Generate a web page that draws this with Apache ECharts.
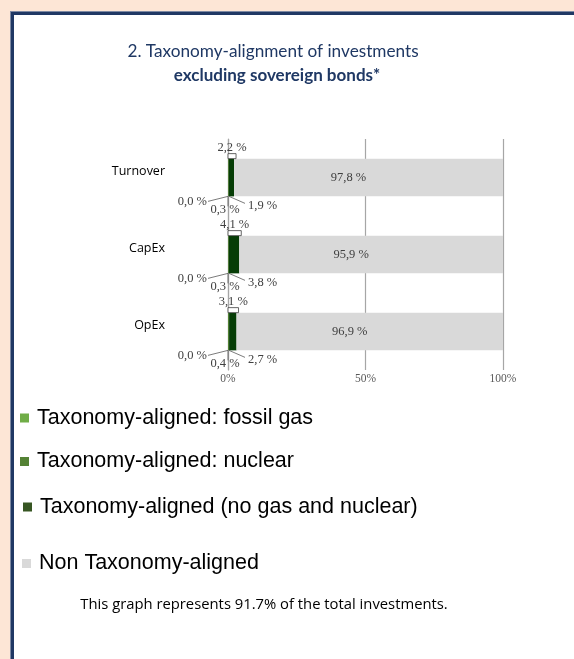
<!DOCTYPE html>
<html>
<head>
<meta charset="utf-8">
<script src="https://cdn.jsdelivr.net/npm/echarts@6/dist/echarts.min.js"></script>
<style>
  html, body { margin: 0; padding: 0; width: 574px; height: 659px; background: #fde6d6; overflow: hidden; }
  #frame { position: absolute; left: 11px; top: 12px; width: 600px; height: 700px; background: #ffffff;
           border-left: 3px solid #203864; border-top: 3px solid #203864; box-shadow: -1px -1px 0 #7f8aa3; }
  #chart { position: absolute; left: 0; top: 0; width: 574px; height: 659px; }
</style>
</head>
<body>
<div id="frame"></div>
<div id="chart"></div>
<script>
// ---- data ----
const categories = ['Turnover', 'CapEx', 'OpEx'];
const fossilGas = [0.0, 0.0, 0.0];
const nuclear = [0.3, 0.3, 0.4];
const alignedNoGasNuclear = [1.9, 3.8, 2.7];
const nonAligned = [97.8, 95.9, 96.9];
const alignedTotal = [2.2, 4.1, 3.1];
const xTicks = [0, 50, 100];
const seriesNames = ['Taxonomy-aligned: fossil gas', 'Taxonomy-aligned: nuclear',
                     'Taxonomy-aligned (no gas and nuclear)', 'Non Taxonomy-aligned'];
const titleLine1 = '2. Taxonomy-alignment of investments';
const titleLine2 = 'excluding sovereign bonds*';
const footnote = 'This graph represents 91.7% of the total investments.';

const fmt = v => v.toFixed(1).replace('.', ',') + ' %';
const serif = 'Liberation Serif';
const labelColor = '#404040';
const barFrac = 0.49;

const chart = echarts.init(document.getElementById('chart'), null, { renderer: 'canvas' });

const legendColors = ['#70ad47', '#548235', '#375623', '#d9d9d9'];
const legendLeft = [20, 20, 23, 22];
const legendCenterY = [418, 461.5, 507, 563.5];

const legends = seriesNames.map((n, k) => ({
  data: [{ name: n, itemStyle: { color: legendColors[k] } }],
  left: legendLeft[k], top: legendCenterY[k] - 12, padding: 0,
  itemWidth: 9, itemHeight: 9, icon: 'rect', selectedMode: false,
  textStyle: { fontFamily: 'Liberation Sans', fontSize: 21.5, color: '#000', lineHeight: 24, padding: [0, 0, 0, 3] }
}));

const option = {
  animation: false,
  backgroundColor: 'transparent',
  title: [
    { text: titleLine1, left: 268, top: 38, textAlign: 'center',
      textStyle: { fontFamily: 'Lato', fontWeight: 'normal', fontSize: 17.2, color: '#1f3864' } },
    { text: titleLine2, left: 272, top: 62, textAlign: 'center',
      textStyle: { fontFamily: 'Lato', fontWeight: 'bold', fontSize: 17, color: '#1f3864' } },
    { text: footnote, left: 259, top: 592, textAlign: 'center',
      textStyle: { fontFamily: 'Open Sans', fontWeight: 'normal', fontSize: 14.8, color: '#000' } }
  ],
  legend: legends,
  grid: { left: 228, right: 71, top: 139, bottom: 289, containLabel: false },
  xAxis: {
    type: 'value', min: 0, max: 100, interval: 50,
    axisLine: { show: false }, axisTick: { show: false },
    splitLine: { show: true, lineStyle: { color: '#a6a6a6', width: 1.2 } },
    axisLabel: { formatter: v => xTicks.includes(v) ? v + '%' : '', margin: 3,
                 fontFamily: serif, fontSize: 11.5, color: '#595959' }
  },
  yAxis: {
    type: 'category', data: categories, inverse: true,
    axisLine: { show: true, lineStyle: { color: '#a6a6a6', width: 1.2 } },
    axisTick: { show: false },
    axisLabel: { margin: 63, fontFamily: 'Open Sans', fontSize: 12.5, color: '#000',
                 verticalAlign: 'bottom', lineHeight: 13 }
  },
  series: [
    { name: seriesNames[0], type: 'bar', stack: 'a', data: fossilGas, barWidth: (barFrac * 100) + '%',
      itemStyle: { color: legendColors[0] } },
    { name: seriesNames[1], type: 'bar', stack: 'a', data: nuclear, barWidth: (barFrac * 100) + '%',
      itemStyle: { color: legendColors[1] } },
    { name: seriesNames[2], type: 'bar', stack: 'a', data: alignedNoGasNuclear, barWidth: (barFrac * 100) + '%',
      itemStyle: { color: '#063d06' } },
    { name: seriesNames[3], type: 'bar', stack: 'a', data: nonAligned, barWidth: (barFrac * 100) + '%',
      itemStyle: { color: '#d9d9d9' },
      label: { show: true, position: 'inside', offset: [-20, 0], formatter: p => fmt(p.value),
               fontFamily: serif, fontSize: 12.5, color: labelColor } },
    {
      type: 'custom', silent: true, z: 5,
      data: categories.map((c, i) => [alignedTotal[i], i]),
      renderItem: (params, api) => {
        const i = params.dataIndex;
        const base = api.coord([0, i]);
        const end = api.coord([api.value(0), i]);
        const bandH = api.size([0, 1])[1];
        const barH = bandH * barFrac;
        const top = base[1] - barH / 2;
        const bottom = base[1] + barH / 2;
        const x0 = base[0];
        const ts = (extra) => Object.assign({ fontFamily: serif, fontSize: 12.5, fill: labelColor }, extra);
        const ls = { stroke: '#595959', lineWidth: 0.8 };
        return { type: 'group', children: [
          { type: 'rect', shape: { x: x0, y: top - 5, width: Math.max(end[0] - x0 + 2, 6), height: 5 },
            style: { fill: '#fff', stroke: '#404040', lineWidth: 0.8 } },
          { type: 'text', style: ts({ text: fmt(alignedTotal[i]), x: (x0 + end[0]) / 2 + 1, y: top - 11,
              align: 'center', verticalAlign: 'middle' }) },
          { type: 'line', shape: { x1: x0, y1: bottom, x2: x0 - 20, y2: bottom + 5 }, style: ls },
          { type: 'text', style: ts({ text: fmt(fossilGas[i]), x: x0 - 21, y: bottom + 5.5,
              align: 'right', verticalAlign: 'middle' }) },
          { type: 'line', shape: { x1: x0, y1: bottom, x2: x0, y2: bottom + 10 }, style: ls },
          { type: 'text', style: ts({ text: fmt(nuclear[i]), x: x0 - 3, y: bottom + 13.5,
              align: 'center', verticalAlign: 'middle' }) },
          { type: 'line', shape: { x1: x0 + 1, y1: bottom, x2: x0 + 17, y2: bottom + 7 }, style: ls },
          { type: 'text', style: ts({ text: fmt(alignedNoGasNuclear[i]), x: x0 + 20, y: bottom + 9.5,
              align: 'left', verticalAlign: 'middle' }) }
        ] };
      }
    }
  ]
};
chart.setOption(option);
</script>
</body>
</html>
